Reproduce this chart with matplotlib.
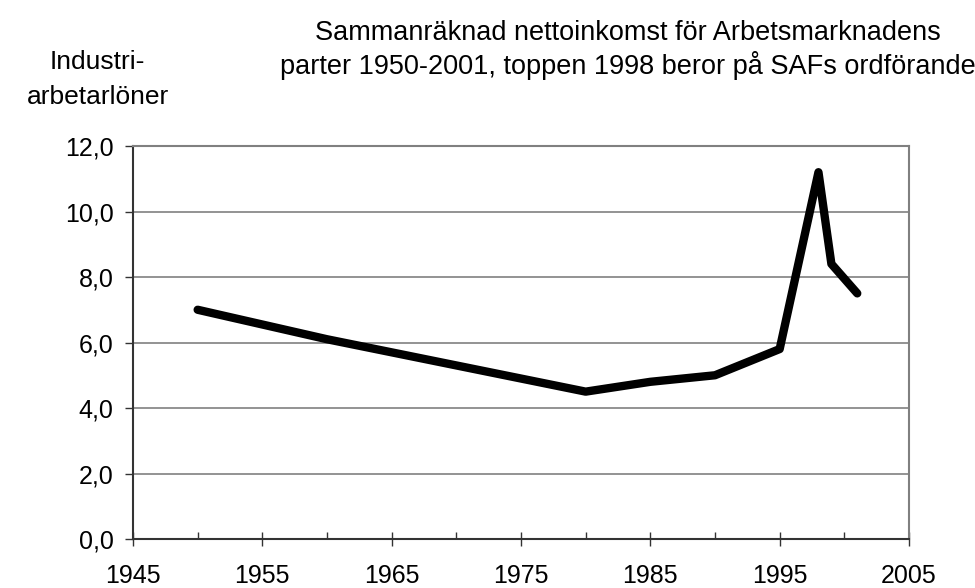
import matplotlib.pyplot as plt
from matplotlib.ticker import FuncFormatter, MultipleLocator

plt.rcParams['font.family'] = ['Liberation Sans', 'DejaVu Sans']

# data
years = [1950, 1960, 1970, 1980, 1985, 1990, 1995, 1998, 1999, 2001]
income = [7.0, 6.1, 5.3, 4.5, 4.8, 5.0, 5.8, 11.2, 8.4, 7.5]

title = "Sammanräknad nettoinkomst för Arbetsmarknadens\nparter 1950-2001, toppen 1998 beror på SAFs ordförande"
ylabel = "Industri-\narbetarlöner"
x_ticks = [1945, 1955, 1965, 1975, 1985, 1995, 2005]

fig = plt.figure(figsize=(9.75, 5.88), dpi=100)
ax = fig.add_axes([0.1364, 0.0833, 0.7959, 0.6684])

ax.plot(years, income, color='black', linewidth=6, solid_capstyle='round',
        solid_joinstyle='round', zorder=3)

ax.set_xlim(1945, 2005)
ax.set_ylim(0, 12)
ax.set_xticks(x_ticks)
ax.xaxis.set_minor_locator(MultipleLocator(5))
ax.yaxis.set_major_locator(MultipleLocator(2))
ax.yaxis.set_major_formatter(FuncFormatter(lambda v, p: f"{v:.1f}".replace('.', ',')))

ax.grid(axis='y', color='#808080', linewidth=1.2)
ax.set_axisbelow(True)

for side in ['top', 'right']:
    ax.spines[side].set_color('#808080')
    ax.spines[side].set_linewidth(1.5)
for side in ['left', 'bottom']:
    ax.spines[side].set_color('#333333')
    ax.spines[side].set_linewidth(1.5)

ax.tick_params(axis='y', direction='out', length=6, width=1, color='#333333',
               labelsize=18, pad=8)
ax.tick_params(axis='x', which='major', direction='inout', length=10, width=1,
               color='#333333', labelsize=18, pad=13)
ax.tick_params(axis='x', which='minor', direction='in', length=5, width=1,
               color='#333333')

fig.text(0.644, 0.915, title, ha='center', va='center', fontsize=19.5, linespacing=1.2)
fig.text(0.1, 0.865, ylabel, ha='center', va='center', fontsize=19, linespacing=1.6)

fig.savefig('out.png', dpi=100)
